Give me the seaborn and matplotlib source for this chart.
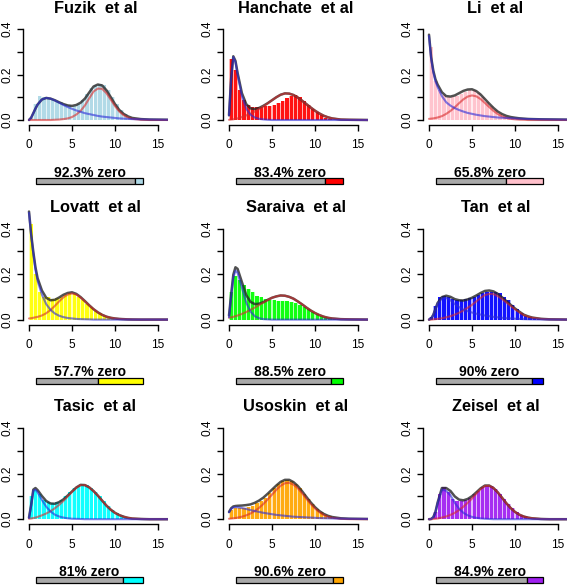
import matplotlib
matplotlib.use("Agg")
import matplotlib.pyplot as plt
import numpy as np
import pandas as pd
import seaborn as sns

studies = ["Fuzik", "Hanchate", "Li", "Lovatt", "Saraiva", "Tan", "Tasic", "Usoskin", "Zeisel"]
study_colors = ["#add8e6", "#ff0000", "#ffc0cb", "#ffff00", "#00ff00", "#0000ff", "#00ffff", "#ffa500", "#a020f0"]
zero_pct = [92.3, 83.4, 65.8, 57.7, 88.5, 90, 81, 90.6, 84.9]
zero_text = ["92.3", "83.4", "65.8", "57.7", "88.5", "90", "81", "90.6", "84.9"]

# x positions where the fitted curves were read
grid = [0, 0.25, 0.5, 0.75, 1, 1.5, 2, 2.5, 3, 3.5, 4, 4.5, 5, 5.5, 6, 6.5, 7, 7.5,
        8, 8.5, 9, 9.5, 10, 10.5, 11, 11.5, 12, 13, 14, 16.2]
# histogram bins of width 0.5 from 0 to 13
bin_centers = [0.25 + 0.5 * i for i in range(26)]

fuzik_hist = [0.01, 0.07, 0.105, 0.1, 0.095, 0.09, 0.085, 0.078, 0.07, 0.065, 0.062, 0.07, 0.09,
              0.115, 0.14, 0.155, 0.16, 0.152, 0.13, 0.1, 0.07, 0.045, 0.025, 0.012, 0.006, 0.003]
fuzik_low = [0, 0.01, 0.03, 0.05, 0.068, 0.09, 0.097, 0.094, 0.086, 0.076, 0.066, 0.057, 0.049, 0.042,
             0.036, 0.03, 0.026, 0.022, 0.018, 0.015, 0.013, 0.011, 0.009, 0.007, 0.006, 0.005, 0.004,
             0.003, 0.002, 0.001]
fuzik_high = [0, 0, 0, 0, 0, 0, 0, 0, 0.001, 0.002, 0.004, 0.007, 0.013, 0.024, 0.04, 0.064, 0.095,
              0.125, 0.138, 0.137, 0.118, 0.09, 0.061, 0.037, 0.021, 0.011, 0.005, 0.001, 0, 0]

hanchate_hist = [0.27, 0.22, 0.13, 0.088, 0.066, 0.058, 0.057, 0.057, 0.06, 0.062, 0.068, 0.075, 0.085,
                 0.095, 0.105, 0.112, 0.1, 0.085, 0.065, 0.05, 0.035, 0.02, 0.01, 0.005, 0.002, 0.001]
hanchate_low = [0.02, 0.18, 0.277, 0.255, 0.2, 0.105, 0.05, 0.023, 0.011, 0.005, 0.0025, 0.001, 0, 0,
                0, 0, 0, 0, 0, 0, 0, 0, 0, 0, 0, 0, 0, 0, 0, 0]
hanchate_high = [0.001, 0.002, 0.003, 0.005, 0.007, 0.013, 0.02, 0.028, 0.037, 0.048, 0.06, 0.073,
                 0.087, 0.1, 0.111, 0.117, 0.116, 0.11, 0.099, 0.085, 0.07, 0.055, 0.041, 0.029, 0.019,
                 0.012, 0.007, 0.002, 0.001, 0]

li_hist = [0.32, 0.17, 0.13, 0.11, 0.1, 0.1, 0.105, 0.115, 0.125, 0.13, 0.13, 0.12, 0.1, 0.08, 0.06,
           0.042, 0.028, 0.018, 0.012, 0.008, 0.006, 0.005, 0.004, 0.003, 0.002, 0.002]
li_low = [0.37, 0.27, 0.21, 0.17, 0.145, 0.105, 0.078, 0.063, 0.052, 0.044, 0.037, 0.031, 0.027, 0.023,
          0.02, 0.017, 0.015, 0.013, 0.011, 0.01, 0.009, 0.008, 0.007, 0.006, 0.005, 0.0045, 0.004,
          0.003, 0.0025, 0.0015]
li_high = [0.005, 0.006, 0.007, 0.009, 0.011, 0.017, 0.027, 0.04, 0.056, 0.074, 0.091, 0.103, 0.108,
           0.104, 0.092, 0.075, 0.057, 0.04, 0.026, 0.016, 0.009, 0.005, 0.003, 0.0015, 0.001, 0, 0,
           0, 0, 0]

lovatt_hist = [0.42, 0.2, 0.12, 0.1, 0.1, 0.09, 0.095, 0.1, 0.11, 0.115, 0.112, 0.1, 0.088, 0.07,
               0.055, 0.04, 0.028, 0.018, 0.01, 0.006, 0.003, 0.002, 0.001, 0.001, 0, 0]
lovatt_low = [0.47, 0.37, 0.29, 0.22, 0.17, 0.11, 0.068, 0.043, 0.027, 0.017, 0.011, 0.007, 0.005,
              0.003, 0.002, 0.0015, 0.001, 0, 0, 0, 0, 0, 0, 0, 0, 0, 0, 0, 0, 0]
lovatt_high = [0.005, 0.006, 0.008, 0.01, 0.012, 0.018, 0.028, 0.042, 0.06, 0.08, 0.098, 0.11, 0.115,
               0.11, 0.097, 0.08, 0.062, 0.046, 0.032, 0.021, 0.013, 0.008, 0.005, 0.003, 0.002,
               0.001, 0.0005, 0, 0, 0]

saraiva_hist = [0.12, 0.19, 0.175, 0.15, 0.135, 0.12, 0.105, 0.098, 0.092, 0.088, 0.085, 0.083, 0.082,
                0.08, 0.076, 0.072, 0.065, 0.055, 0.045, 0.035, 0.025, 0.017, 0.01, 0.005, 0.002, 0.001]
saraiva_low = [0.01, 0.1, 0.185, 0.215, 0.205, 0.14, 0.075, 0.035, 0.015, 0.006, 0.002, 0.001, 0, 0,
               0, 0, 0, 0, 0, 0, 0, 0, 0, 0, 0, 0, 0, 0, 0, 0]
saraiva_high = [0.008, 0.01, 0.012, 0.015, 0.018, 0.025, 0.033, 0.043, 0.053, 0.064, 0.075, 0.086,
                0.096, 0.102, 0.106, 0.105, 0.1, 0.092, 0.08, 0.067, 0.053, 0.04, 0.029, 0.02, 0.013,
                0.008, 0.005, 0.002, 0.001, 0]

tan_hist = [0.01, 0.06, 0.1, 0.105, 0.1, 0.09, 0.085, 0.085, 0.09, 0.095, 0.1, 0.11, 0.115, 0.12, 0.122,
            0.12, 0.115, 0.1, 0.085, 0.065, 0.045, 0.03, 0.018, 0.01, 0.005, 0.002]
tan_low = [0, 0.005, 0.02, 0.045, 0.07, 0.093, 0.095, 0.085, 0.068, 0.055, 0.044, 0.037, 0.031, 0.026,
           0.022, 0.018, 0.015, 0.012, 0.01, 0.008, 0.006, 0.005, 0.004, 0.003, 0.002, 0.0015, 0.001,
           0.0005, 0.0003, 0]
tan_high = [0, 0, 0.001, 0.002, 0.003, 0.006, 0.01, 0.015, 0.022, 0.03, 0.04, 0.052, 0.065, 0.08, 0.095,
            0.108, 0.113, 0.112, 0.103, 0.09, 0.075, 0.06, 0.045, 0.032, 0.02, 0.013, 0.008, 0.003,
            0.001, 0]

tasic_hist = [0.1, 0.13, 0.11, 0.085, 0.075, 0.07, 0.075, 0.085, 0.1, 0.12, 0.135, 0.148, 0.155, 0.15,
              0.138, 0.12, 0.1, 0.08, 0.06, 0.042, 0.028, 0.017, 0.01, 0.005, 0.002, 0.001]
tasic_low = [0.005, 0.06, 0.125, 0.13, 0.118, 0.085, 0.055, 0.034, 0.02, 0.012, 0.007, 0.004, 0.002,
             0.0015, 0.001, 0, 0, 0, 0, 0, 0, 0, 0, 0, 0, 0, 0, 0, 0, 0]
tasic_high = [0.002, 0.003, 0.005, 0.007, 0.01, 0.017, 0.025, 0.035, 0.048, 0.063, 0.08, 0.1, 0.12,
              0.138, 0.15, 0.15, 0.14, 0.124, 0.104, 0.082, 0.06, 0.042, 0.028, 0.018, 0.011, 0.006,
              0.003, 0.001, 0, 0]

usoskin_hist = [0.04, 0.05, 0.05, 0.05, 0.055, 0.06, 0.07, 0.08, 0.095, 0.115, 0.135, 0.155, 0.168,
                0.172, 0.168, 0.155, 0.135, 0.11, 0.088, 0.065, 0.045, 0.03, 0.02, 0.012, 0.008, 0.005]
usoskin_low = [0.03, 0.045, 0.052, 0.053, 0.052, 0.049, 0.045, 0.04, 0.036, 0.032, 0.028, 0.025, 0.022,
               0.019, 0.017, 0.015, 0.013, 0.011, 0.01, 0.009, 0.008, 0.007, 0.006, 0.005, 0.0045,
               0.004, 0.0035, 0.0025, 0.0018, 0.001]
usoskin_high = [0.002, 0.003, 0.004, 0.005, 0.007, 0.011, 0.017, 0.025, 0.036, 0.05, 0.067, 0.087,
                0.108, 0.129, 0.147, 0.158, 0.16, 0.152, 0.136, 0.114, 0.09, 0.067, 0.047, 0.031, 0.019,
                0.011, 0.006, 0.0015, 0.0003, 0]

zeisel_hist = [0.002, 0.03, 0.11, 0.14, 0.12, 0.09, 0.078, 0.08, 0.085, 0.095, 0.11, 0.125, 0.14, 0.148,
               0.145, 0.132, 0.112, 0.09, 0.068, 0.048, 0.032, 0.02, 0.012, 0.007, 0.004, 0.002]
zeisel_low = [0, 0.001, 0.008, 0.03, 0.07, 0.13, 0.125, 0.105, 0.072, 0.046, 0.028, 0.017, 0.01, 0.006,
              0.0035, 0.002, 0.001, 0, 0, 0, 0, 0, 0, 0, 0, 0, 0, 0, 0, 0]
zeisel_high = [0, 0, 0.001, 0.002, 0.003, 0.007, 0.012, 0.019, 0.028, 0.04, 0.055, 0.072, 0.091, 0.112,
               0.132, 0.146, 0.147, 0.137, 0.118, 0.094, 0.07, 0.049, 0.032, 0.02, 0.012, 0.007, 0.004,
               0.001, 0, 0]

hists = [fuzik_hist, hanchate_hist, li_hist, lovatt_hist, saraiva_hist, tan_hist, tasic_hist,
         usoskin_hist, zeisel_hist]
lows = [fuzik_low, hanchate_low, li_low, lovatt_low, saraiva_low, tan_low, tasic_low, usoskin_low,
        zeisel_low]
highs = [fuzik_high, hanchate_high, li_high, lovatt_high, saraiva_high, tan_high, tasic_high,
         usoskin_high, zeisel_high]

sns.set_style("white")
plt.rcParams["font.family"] = ["Liberation Sans", "DejaVu Sans"]
plt.rcParams["text.color"] = "black"

W, H = 567, 585
fig = plt.figure(figsize=(W / 100, H / 100), dpi=100)

px_x = 8.6      # pixels per x unit
px_y = 227.5    # pixels per density unit
x_lo, x_hi = -0.7, 16.2
y_lo, y_hi = -0.022, 0.48
edges = list(np.arange(0, 13.01, 0.5))

for i, name in enumerate(studies):
    row, col = divmod(i, 3)
    zero_x = 29 + 200 * col
    zero_y = 120 + 199.6 * row
    left = zero_x + x_lo * px_x
    width = (x_hi - x_lo) * px_x
    top = zero_y - y_hi * px_y
    bottom = zero_y - y_lo * px_y
    ax = fig.add_axes([left / W, 1 - bottom / H, width / W, (bottom - top) / H])
    ax.set_facecolor("none")

    color = study_colors[i]
    df = pd.DataFrame({"expr": bin_centers, "density": hists[i]})
    sns.histplot(data=df, x="expr", weights="density", bins=edges, ax=ax,
                 color=color, alpha=0.3, linewidth=0)
    sns.histplot(data=df, x="expr", weights="density", bins=edges, ax=ax,
                 color=color, alpha=0.9, linewidth=0, shrink=0.75)

    total = [a + b for a, b in zip(lows[i], highs[i])]
    sns.lineplot(x=grid, y=total, ax=ax, color="#262626", lw=1.8, alpha=0.8)
    sns.lineplot(x=grid, y=highs[i], ax=ax, color="#d82a2a", lw=1.5, alpha=0.6)
    sns.lineplot(x=grid, y=lows[i], ax=ax, color="#2a2ad8", lw=1.5, alpha=0.6)

    ax.set_xlim(x_lo, x_hi)
    ax.set_ylim(y_lo, y_hi)
    ax.set_xlabel("")
    ax.set_ylabel("")
    ax.set_xticks([0, 5, 10, 15])
    ax.set_xticklabels(["0", "5", "10", "15"])
    ax.set_yticks([0, 0.1, 0.2, 0.3, 0.4])
    ax.set_yticklabels(["0.0", "", "0.2", "", "0.4"], rotation=90, va="center")
    for side in ["top", "right"]:
        ax.spines[side].set_visible(False)
    ax.spines["left"].set_bounds(0, 0.4)
    ax.spines["bottom"].set_bounds(0, 15)
    for side in ["left", "bottom"]:
        ax.spines[side].set_color("black")
        ax.spines[side].set_linewidth(1.0)
    ax.tick_params(axis="both", which="both", direction="out", length=4.3, width=1.0,
                   color="black", labelcolor="black", labelsize=8.6, left=True, bottom=True)
    ax.tick_params(axis="x", pad=6)
    ax.tick_params(axis="y", pad=2.4)

    fig.text((95.5 + 200 * col) / W, 1 - (12.8 + 199.3 * row) / H, f"{name}  et al",
             ha="center", va="baseline", fontsize=11.8, fontweight="bold")

    # zero proportion indicator
    fig.text((89.5 + 200 * col) / W, 1 - (177 + 199.5 * row) / H, f"{zero_text[i]}% zero",
             ha="center", va="baseline", fontsize=10, fontweight="bold")
    bar_top = 178.3 + 199.5 * row
    bax = fig.add_axes([(36 + 200 * col) / W, 1 - (bar_top + 6) / H, 107 / W, 6 / H])
    bax.barh([0], [zero_pct[i]], height=1, color="#a9a9a9", edgecolor="black", linewidth=0.9,
             clip_on=False)
    bax.barh([0], [100 - zero_pct[i]], left=zero_pct[i], height=1, color=color,
             edgecolor="black", linewidth=0.9, clip_on=False)
    bax.set_xlim(0, 100)
    bax.set_ylim(-0.5, 0.5)
    bax.axis("off")

fig.savefig("out.png", dpi=100)
